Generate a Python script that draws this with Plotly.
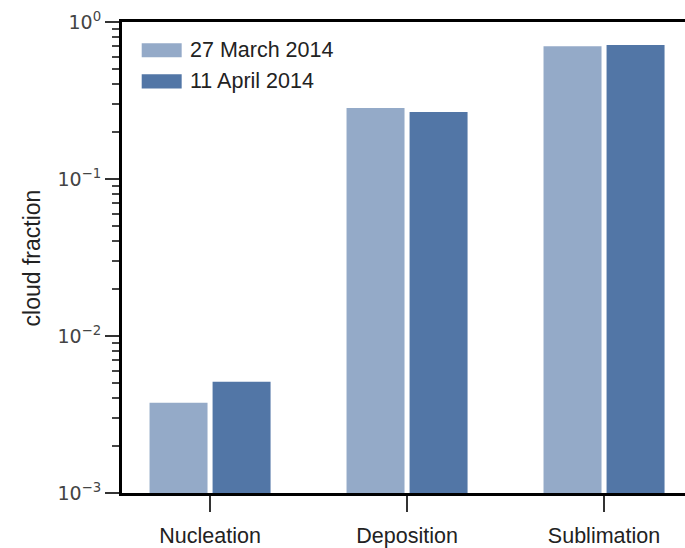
import plotly.graph_objects as go

# Cloud-fraction data per process, two case days
processes = ["Nucleation", "Deposition", "Sublimation"]
series_names = ["27 March 2014", "11 April 2014"]
march_27 = [0.00376, 0.283, 0.700]
april_11 = [0.00512, 0.267, 0.713]
series_values = [march_27, april_11]
series_colors = ["#94aac8", "#5276a6"]

y_tick_vals = [1e-3, 1e-2, 1e-1, 1e0]
y_tick_text = ["10<sup>\u22123</sup>", "10<sup>\u22122</sup>", "10<sup>\u22121</sup>", "10<sup>0</sup>"]
y_minor_vals = [k * 10.0 ** d for d in (-3, -2, -1) for k in range(2, 10)]

SANS = "Liberation Sans"
MATH = "DejaVu Sans"

fig = go.Figure()
for name, vals, col in zip(series_names, series_values, series_colors):
    fig.add_trace(go.Bar(
        x=processes, y=vals, name=name,
        marker=dict(color=col, line=dict(width=0)),
        showlegend=False,
    ))

# Legend drawn as wide colour patches with labels
for i, (name, col) in enumerate(zip(series_names, series_colors)):
    y0 = 0.925 - i * 0.066
    fig.add_shape(type="rect", xref="paper", yref="paper",
                  x0=0.035, x1=0.106, y0=y0, y1=y0 + 0.030,
                  fillcolor=col, line=dict(width=0))
    fig.add_annotation(xref="paper", yref="paper", x=0.117, y=y0 + 0.016,
                       text=name, showarrow=False, xanchor="left", yanchor="middle",
                       font=dict(family=SANS, size=21.5, color="#222222"))

fig.add_annotation(xref="paper", yref="paper", x=-0.160, y=0.50,
                   text="cloud fraction", textangle=-90, showarrow=False,
                   xanchor="center", yanchor="middle",
                   font=dict(family=SANS, size=23, color="#222222"))

fig.update_layout(
    width=685, height=548,
    margin=dict(l=122, r=0, t=22, b=51),
    paper_bgcolor="white", plot_bgcolor="white",
    barmode="group", bargap=0.36, bargroupgap=0.08,
    xaxis=dict(
        range=[-0.447, 2.411], showgrid=False, zeroline=False,
        showline=True, linecolor="black", linewidth=3, mirror=True,
        ticks="outside", ticklen=16, tickwidth=2, tickcolor="#333333",
        ticklabelstandoff=5,
        tickfont=dict(family=SANS, size=21.5, color="#222222"),
    ),
    yaxis=dict(
        type="log", range=[-3, 0], showgrid=False, zeroline=False,
        showline=True, linecolor="black", linewidth=3,
        tickmode="array", tickvals=y_tick_vals, ticktext=y_tick_text,
        ticks="outside", ticklen=14, tickwidth=2, tickcolor="#333333",
        tickfont=dict(family=MATH, size=19, color="#444444"),
        minor=dict(tickmode="array", tickvals=y_minor_vals, ticks="outside",
                   ticklen=7, tickwidth=1.5, tickcolor="#444444", showgrid=False),
    ),
)

fig.write_html("out.html")
